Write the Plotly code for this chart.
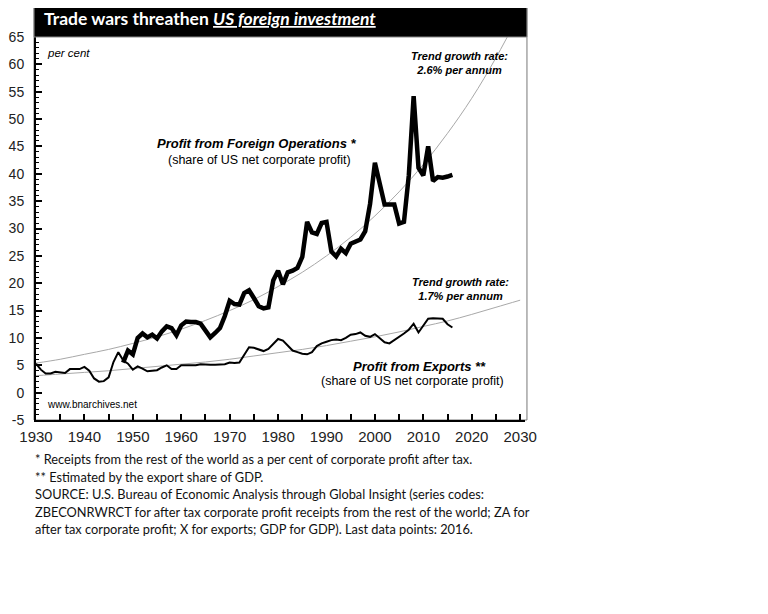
import plotly.graph_objects as go

# Profit from exports (share of US net corporate profit), 1930-2016
export_years = list(range(1930, 2017))
export_share = [5.3, 4.2, 3.5, 3.5, 3.8, 3.7, 3.6, 4.3, 4.3, 4.3,
                4.7, 4.0, 2.6, 2.0, 2.1, 2.8, 5.6, 7.4, 5.9, 5.3,
                4.2, 4.8, 4.4, 3.9, 4.0, 4.1, 4.6, 5.0, 4.3, 4.3,
                5.0, 5.0, 4.9, 5.0, 5.2, 5.1, 5.1, 5.1, 5.1, 5.2,
                5.5, 5.4, 5.5, 6.8, 8.3, 8.2, 7.9, 7.6, 8.0, 8.9,
                9.8, 9.5, 8.6, 7.7, 7.4, 7.1, 7.0, 7.4, 8.5, 9.0,
                9.3, 9.6, 9.7, 9.6, 10.0, 10.6, 10.7, 11.0, 10.4, 10.2,
                10.7, 9.9, 9.2, 9.0, 9.6, 10.1, 10.8, 11.5, 12.6, 11.0,
                12.3, 13.5, 13.6, 13.5, 13.5, 12.5, 11.9]

# Profit from foreign operations (share of US net corporate profit), 1948-2016
foreign_years = list(range(1948, 2017))
foreign_share = [5.5, 7.7, 7.0, 10.0, 10.8, 10.1, 10.6, 9.9, 11.2, 12.1,
                 11.8, 10.5, 12.3, 13.0, 12.9, 12.9, 12.6, 11.5, 10.1, 10.9,
                 11.8, 14.0, 16.8, 16.2, 16.1, 18.2, 18.7, 17.3, 15.8, 15.4,
                 15.6, 20.5, 22.3, 19.8, 22.0, 22.3, 22.8, 24.8, 31.2, 29.3,
                 29.0, 31.0, 31.2, 25.8, 24.9, 26.3, 25.5, 27.2, 27.5, 28.0,
                 29.5, 34.5, 42.0, 38.0, 34.4, 34.4, 34.4, 30.9, 31.2, 39.7,
                 54.2, 41.1, 39.7, 45.0, 38.7, 39.4, 39.3, 39.5, 39.8]

# trend curves
trend_years = list(range(1930, 2031, 5))
trend_foreign = [5.4, 6.1, 7.0, 7.9, 9.0, 10.2, 11.6, 13.2, 15.0, 17.0, 19.4,
                 22.0, 25.0, 28.4, 32.3, 36.7, 41.7, 47.4, 53.8, 61.2, 69.5]
trend_exports = [3.1, 3.4, 3.7, 4.0, 4.4, 4.8, 5.2, 5.6, 6.1, 6.7, 7.3,
                 7.9, 8.6, 9.4, 10.2, 11.1, 12.1, 13.1, 14.3, 15.6, 16.9]

x_ticks = list(range(1930, 2031, 10))
y_ticks = list(range(-5, 66, 5))
y_labels = [str(v) for v in y_ticks]

footnotes = [
    "* Receipts from the rest of the world as a per cent of corporate profit after tax.",
    "** Estimated by the export share of GDP.",
    "SOURCE: U.S. Bureau of Economic Analysis through Global Insight (series codes:",
    "ZBECONRWRCT for after tax corporate profit receipts from the rest of the world; ZA for",
    "after tax corporate profit; X for exports; GDP for GDP). Last data points: 2016.",
]

fig = go.Figure()

fig.add_trace(go.Scatter(x=trend_years, y=trend_foreign, mode='lines',
                         line=dict(color='#a8a8a8', width=1, shape='spline'),
                         hoverinfo='skip'))
fig.add_trace(go.Scatter(x=trend_years, y=trend_exports, mode='lines',
                         line=dict(color='#a8a8a8', width=1, shape='spline'),
                         hoverinfo='skip'))
fig.add_trace(go.Scatter(x=export_years, y=export_share, mode='lines',
                         line=dict(color='black', width=2),
                         name='Profit from Exports'))
fig.add_trace(go.Scatter(x=foreign_years, y=foreign_share, mode='lines',
                         line=dict(color='black', width=4.5),
                         name='Profit from Foreign Operations'))

arial = 'Liberation Sans, Arial, sans-serif'
calibri = 'Lato, sans-serif'

notes = [
    (1931.8, 62.1, '<i>per cent</i>', 11.5, 'left'),
    (2017.4, 60.2, '<b><i>Trend growth rate:<br>2.6% per annum</i></b>', 11, 'center'),
    (1975.7, 45.6, '<b><i>Profit from Foreign Operations *</i></b>', 13, 'center'),
    (1976.1, 42.5, '(share of US net corporate profit)', 12.5, 'center'),
    (2017.6, 19.0, '<b><i>Trend growth rate:<br>1.7% per annum</i></b>', 11, 'center'),
    (2009.2, 4.7, '<b><i>Profit from Exports **</i></b>', 13, 'center'),
    (2007.7, 2.1, '(share of US net corporate profit)', 12.5, 'center'),
    (1931.8, -2.1, 'www.bnarchives.net', 10, 'left'),
]
for x, y, txt, size, anchor in notes:
    fig.add_annotation(x=x, y=y, text=txt, showarrow=False, xanchor=anchor,
                       yanchor='middle', font=dict(family=arial, size=size, color='black'))

# title bar and outer frame
fig.add_shape(type='rect', xref='paper', yref='paper', x0=-0.004, x1=1.004, y0=1.0, y1=1.0914,
              fillcolor='black', line=dict(color='#888', width=1), layer='above')
fig.add_shape(type='rect', xref='paper', yref='paper', x0=-0.004, x1=1.004, y0=0, y1=1.0914,
              line=dict(color='#777', width=1), layer='below')
fig.add_annotation(xref='paper', yref='paper', x=0.012, y=1.047, xanchor='left', yanchor='middle',
                   text='Trade wars threathen <i><u>US foreign investment</u></i>', showarrow=False,
                   font=dict(family=calibri, size=17.5, color='white', weight='bold'))

for i, line in enumerate(footnotes):
    fig.add_annotation(xref='paper', yref='paper', x=-0.006, y=-0.102 - i * 0.0457,
                       xanchor='left', yanchor='middle', text=line, showarrow=False,
                       font=dict(family=calibri, size=12.8, color='#111'))

fig.update_layout(
    width=768, height=614,
    margin=dict(l=28, r=251, t=29, b=202),
    paper_bgcolor='white', plot_bgcolor='white',
    showlegend=False,
    xaxis=dict(range=[1930, 2031], tickvals=x_ticks, automargin=False,
               ticks='inside', ticklen=6, tickwidth=1.5, tickcolor='black',
               minor=dict(dtick=5, tick0=1930, ticks='inside', ticklen=6, tickwidth=1.5, tickcolor='black'),
               showline=True, linecolor='black', linewidth=2, showgrid=False, zeroline=False,
               ticklabelstandoff=2,
               tickfont=dict(family=arial, size=15, color='#222')),
    yaxis=dict(range=[-5, 65], tickvals=y_ticks, ticktext=y_labels, automargin=False,
               ticks='inside', ticklen=6, tickwidth=1.5, tickcolor='black',
               minor=dict(dtick=1, tick0=0, ticks='inside', ticklen=3, tickwidth=1, tickcolor='black'),
               showline=True, linecolor='black', linewidth=2, showgrid=False, zeroline=False,
               ticklabelstandoff=7,
               tickfont=dict(family=arial, size=14, color='#222')),
)

fig.write_html("out.html")
